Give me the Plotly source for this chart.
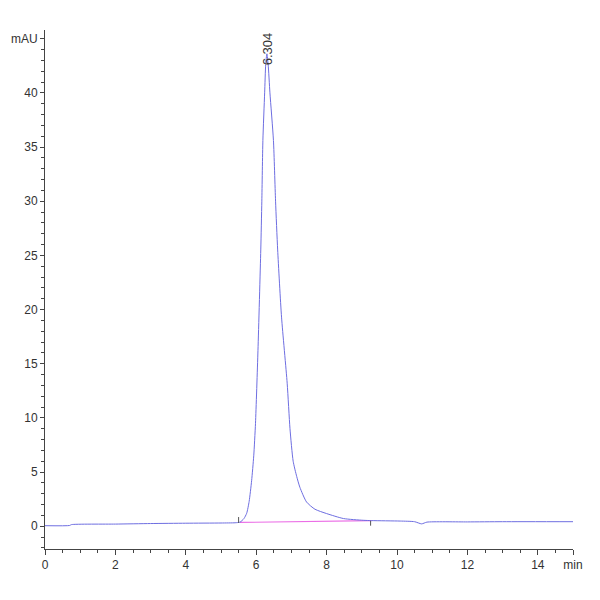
import plotly.graph_objects as go

# chromatogram (time in min, signal in mAU)
time_min = [0.0, 0.7, 0.75, 2.0, 3.0, 4.0, 5.0, 5.4, 5.54, 5.65, 5.73, 5.80, 5.87,
            5.93, 5.98, 6.05, 6.13, 6.16, 6.19, 6.24, 6.27, 6.304, 6.34, 6.39,
            6.49, 6.55, 6.61, 6.72, 6.88, 6.96, 7.05, 7.15, 7.24, 7.43, 7.67, 8.0,
            8.48, 9.04, 9.28, 10.09, 10.5, 10.7, 10.85, 12.0, 13.0, 15.0]
signal_mau = [0.05, 0.07, 0.15, 0.2, 0.25, 0.28, 0.3, 0.32, 0.38, 0.7, 1.2, 2.3, 4.2,
              6.5, 9.5, 16.2, 25.5, 30.0, 35.6, 40.0, 42.6, 43.6, 42.6, 40.0,
              35.6, 30.0, 25.5, 19.3, 13.2, 9.0, 6.0, 4.6, 3.6, 2.24, 1.57, 1.17,
              0.71, 0.55, 0.52, 0.48, 0.42, 0.22, 0.38, 0.4, 0.42, 0.42]

# integration baseline and start/end markers
base_x = [5.54, 9.28]
base_y = [0.35, 0.52]
mark_x = [5.5, 5.5, None, 9.25, 9.25]
mark_y = [0.3, 0.85, None, 0.05, 0.5]

peak_rt = 6.304
peak_label = "6.304"

x_ticks = [0, 2, 4, 6, 8, 10, 12, 14, 15]
x_text = ["0", "2", "4", "6", "8", "10", "12", "14", "min"]
y_ticks = [0, 5, 10, 15, 20, 25, 30, 35, 40, 45]
y_text = ["0", "5", "10", "15", "20", "25", "30", "35", "40", "mAU"]

font = dict(family="Liberation Sans Narrow, Liberation Sans, Arial", size=12, color="#333333")

fig = go.Figure()
fig.add_trace(go.Scatter(x=base_x, y=base_y, mode="lines",
                         line=dict(color="rgb(235,110,230)", width=1.2)))
fig.add_trace(go.Scatter(x=time_min, y=signal_mau, mode="lines",
                         line=dict(color="rgb(110,110,225)", width=1,
                                   shape="spline", smoothing=0.6)))
fig.add_trace(go.Scatter(x=mark_x, y=mark_y, mode="lines",
                         line=dict(color="#555555", width=1)))

fig.add_annotation(x=peak_rt, y=42.4, text=peak_label, showarrow=False, textangle=-90,
                   xanchor="center", yanchor="bottom", font=dict(font, size=13))

# page body adds 8px offset, margins compensate
fig.update_layout(
    width=600, height=600,
    margin=dict(l=37, r=35, t=22, b=59, autoexpand=False),
    paper_bgcolor="white", plot_bgcolor="white",
    showlegend=False,
    font=font,
    xaxis=dict(range=[0, 15], tickvals=x_ticks, ticktext=x_text, automargin=False,
               showgrid=False, zeroline=False, showline=True, linecolor="#444444",
               ticks="outside", ticklen=5, tickcolor="#444444",
               minor=dict(dtick=0.5, ticks="outside", ticklen=3, tickcolor="#444444")),
    yaxis=dict(range=[-2.1, 45.8], tickvals=y_ticks, ticktext=y_text, automargin=False,
               showgrid=False, zeroline=False, showline=True, linecolor="#444444",
               ticks="outside", ticklen=4, tickcolor="#444444",
               minor=dict(dtick=1, ticks="outside", ticklen=3, tickcolor="#444444")),
)

fig.write_html("out.html")
